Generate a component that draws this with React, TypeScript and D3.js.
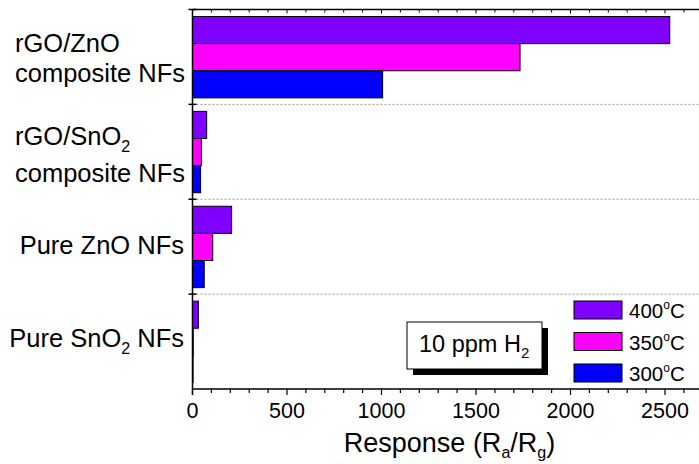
import * as d3 from "d3";

// data
const categories = ["rGO/ZnO composite NFs", "rGO/SnO2 composite NFs", "Pure ZnO NFs", "Pure SnO2 NFs"];
const seriesNames = ["400", "350", "300"];
const seriesColors = ["#8000ff", "#ff00ff", "#0000ff"];
const resp400 = [2525, 75, 207, 31];
const resp350 = [1733, 47, 107, 4];
const resp300 = [1006, 43, 62, 3];
const xTicks = [0, 500, 1000, 1500, 2000, 2500];

const W = 699;
const H = 464;
const FONT = "'Liberation Sans', Arial, Helvetica, sans-serif";

const App = () => {
  const x = d3.scaleLinear().domain([0, 2700]).range([192.5, 702.8]);
  const y0 = d3.scaleBand().domain(categories).range([9.5, 389]);
  const y1 = d3
    .scaleBand()
    .domain(seriesNames)
    .range([7, y0.bandwidth() - 6.5]);
  const values = [resp400, resp350, resp300];

  const minor = d3.range(0, 2701, 100);
  const bottom = 389;
  const top = 9.5;
  const left = x(0);

  // category label lines (with subscripts)
  const labelBlocks: any[] = [
    { lines: [[["rGO/ZnO", false]], [["composite NFs", false]]], dy: [-5.3, 24.7], left: true },
    { lines: [[["rGO/SnO", false], ["2", true]], [["composite NFs", false]]], dy: [-7, 29.7], left: true },
    { lines: [[["Pure ZnO NFs", false]]], dy: [7.4], left: false },
    { lines: [[["Pure SnO", false], ["2", true], [" NFs", false]]], dy: [5.4], left: false },
  ];

  return (
    <svg width={W} height={H} style={{ display: "block", position: "absolute", left: 0, top: 0 }} fontFamily={FONT}>
      <rect width={W} height={H} fill="#fff" />

      {/* dotted separators */}
      {categories.slice(1).map((c) => (
        <line
          key={"g" + c}
          x1={left}
          x2={W}
          y1={y0(c)}
          y2={y0(c)}
          stroke="#999"
          strokeWidth={1}
          strokeDasharray="2,2"
        />
      ))}

      {/* bars */}
      {categories.map((c, ci) =>
        seriesNames.map((s, si) => (
          <rect
            key={c + s}
            x={left}
            y={(y0(c) as number) + (y1(s) as number)}
            width={x(values[si][ci]) - left}
            height={y1.bandwidth()}
            fill={seriesColors[si]}
            stroke="#000"
            strokeWidth={1}
          />
        ))
      )}

      {/* axes */}
      <line x1={left} x2={W} y1={top} y2={top} stroke="#000" strokeWidth={1.5} />
      <line x1={left} x2={W} y1={bottom} y2={bottom} stroke="#000" strokeWidth={1.5} />
      <line x1={left} x2={left} y1={top} y2={bottom + 6} stroke="#000" strokeWidth={1.5} />
      {minor.map((v) => {
        const major = v % 500 === 0;
        return (
          <g key={"t" + v}>
            <line x1={x(v)} x2={x(v)} y1={bottom} y2={bottom + (major ? 6 : 4)} stroke="#000" strokeWidth={1.2} />
            <line x1={x(v)} x2={x(v)} y1={top} y2={top + (major ? 4 : 3)} stroke="#000" strokeWidth={1} />
          </g>
        );
      })}
      {categories.slice(1).map((c) => (
        <line key={"lt" + c} x1={left - 4} x2={left + 4} y1={y0(c)} y2={y0(c)} stroke="#000" strokeWidth={1.5} />
      ))}
      <line x1={left - 4} x2={left + 4} y1={top} y2={top} stroke="#000" strokeWidth={1.5} />

      {xTicks.map((v) => (
        <text key={"xl" + v} x={x(v)} y={418} textAnchor="middle" fontSize={21.5} fill="#000">
          {v}
        </text>
      ))}

      <text x={449.5} y={452} textAnchor="middle" fontSize={27} fill="#000">
        Response (R
        <tspan fontSize={16} dy={6}>a</tspan>
        <tspan dy={-6}>/R</tspan>
        <tspan fontSize={16} dy={6}>g</tspan>
        <tspan dy={-6}>)</tspan>
      </text>

      {/* category labels */}
      {categories.map((c, ci) => {
        const b = labelBlocks[ci];
        const cy = (y0(c) as number) + y0.bandwidth() / 2;
        return b.lines.map((parts: any[], li: number) => (
          <text
            key={c + li}
            x={b.left ? 15 : 184}
            y={cy + b.dy[li]}
            textAnchor={b.left ? "start" : "end"}
            fontSize={25.5}
            fill="#000"
          >
            {parts.map((p: any, pi: number) =>
              p[1] ? (
                <tspan key={pi} fontSize={16} dy={7}>
                  {p[0]}
                </tspan>
              ) : (
                <tspan key={pi} dy={pi > 0 && parts[pi - 1][1] ? -7 : 0}>
                  {p[0]}
                </tspan>
              )
            )}
          </text>
        ));
      })}

      {/* annotation box */}
      <rect x={413} y={328} width={135} height={47} fill="#000" />
      <rect x={407} y={322} width={135} height={47} fill="#fff" stroke="#000" strokeWidth={1} />
      <text x={419} y={352} fontSize={23.5} fill="#000">
        10 ppm H
        <tspan fontSize={15} dy={6}>2</tspan>
      </text>

      {/* legend */}
      {seriesNames.map((s, si) => {
        const ly = 301 + si * 31.5;
        return (
          <g key={"lg" + s}>
            <rect x={574} y={ly} width={48} height={18} fill={seriesColors[si]} stroke="#000" strokeWidth={1} />
            <text x={629} y={ly + 17} fontSize={20.5} fill="#000">
              {s}
              <tspan fontSize={12} dy={-9}>o</tspan>
              <tspan dy={9}>C</tspan>
            </text>
          </g>
        );
      })}
    </svg>
  );
};

export default App;
